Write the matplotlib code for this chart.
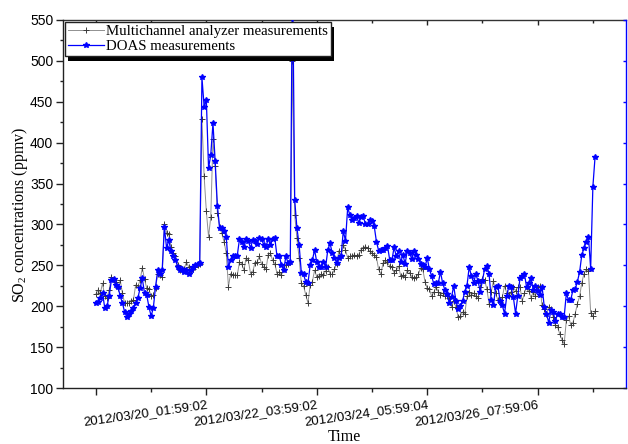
import matplotlib
matplotlib.use("Agg")
import matplotlib.pyplot as plt
from matplotlib.patches import Rectangle
from matplotlib.ticker import FixedLocator, MultipleLocator
import numpy as np

# Hourly SO2 readings, indexed by sample number
tick_index = [0, 50, 100, 150, 200]
tick_labels = ["", "2012/03/20_01:59:02", "2012/03/22_03:59:02",
               "2012/03/24_05:59:04", "2012/03/26_07:59:06"]

analyzer_ppmv = [
    215, 220, 216, 228, 212, 210, 220, 236, 232, 230, 222, 232, 216, 204, 204, 204,
    206, 208, 226, 224, 232, 247, 233, 222, 221, 212, 214, 222, 240, 238, 236, 301,
    290, 288, 273, 265, 262, 250, 244, 244, 246, 254, 248, 244, 246, 248, 250, 252,
    429, 359, 316, 285, 309, 404, 371, 314, 297, 289, 279, 265, 224, 240, 238, 238,
    238, 254, 252, 244, 259, 256, 240, 242, 253, 254, 261, 252, 248, 245, 263, 265,
    256, 252, 240, 242, 238, 246, 250, 252, 254, 500,
    312, 283, 259, 228, 225, 214, 204, 226, 230, 244, 236, 237, 239, 238, 243, 248,
    239, 239, 245, 252, 268, 261, 275, 269, 259, 261, 261, 263, 261, 263, 269, 271,
    273, 271, 267, 265, 263, 260, 245, 239, 253, 256, 254, 249, 248, 241, 244, 249,
    237, 238, 236, 244, 241, 236, 234, 236, 239, 247, 245, 230, 222, 221, 212, 217,
    223,
    218, 214, 216, 213, 212, 210, 199, 206, 199, 187, 188, 193, 190, 212, 218, 214,
    216, 213, 210, 223, 233, 232, 221, 203, 218, 231, 216, 207, 205, 211, 225, 216,
    212, 218, 223, 219, 223, 224, 206, 216, 223, 219, 210, 218, 212, 223, 225, 201,
    197, 191, 199, 197, 187, 177, 175, 166, 159, 154, 183, 188, 177, 180, 191, 203,
    212, 229, 240, 245, 243, 192, 188, 194,
]

doas_ppmv = [
    204, 205, 210, 216, 198, 200, 212, 232, 233, 226, 224, 212, 204, 193, 187, 190,
    194, 198, 204, 210, 222, 234, 216, 214, 199, 188, 198, 224, 244, 240, 244, 297,
    271, 281, 267, 261, 257, 248, 244, 245, 242, 244, 240, 244, 248, 250, 252, 253,
    480, 444, 452, 369, 385, 424, 377, 323, 296, 296, 292, 285, 248, 256, 261, 261,
    262, 282, 279, 272, 282, 280, 271, 281, 280, 276, 284, 282, 275, 273, 282, 275,
    282, 283, 261, 262, 250, 244, 261, 253, 254, 620,
    330, 296, 275, 241, 239, 230, 228, 250, 256, 269, 254, 248, 248, 254, 248, 269,
    277, 265, 259, 253, 259, 261, 292, 280, 321, 311, 305, 308, 310, 302, 309, 310,
    301, 300, 306, 304, 298, 279, 268, 269, 269, 271, 274, 257, 256, 272, 261, 267,
    254, 263, 252, 268, 265, 258, 267, 263, 258, 252, 251, 248, 259, 245, 237, 227,
    228,
    228, 242, 228, 220, 215, 204, 211, 225, 206, 197, 200, 206, 218, 225, 248, 237,
    229, 239, 231, 218, 231, 246, 249, 240, 207, 202, 223, 225, 206, 201, 191, 212,
    225, 223, 211, 191, 212, 234, 237, 240, 223, 228, 234, 220, 225, 219, 214, 224,
    199, 191, 180, 195, 193, 182, 190, 191, 187, 187, 216, 207, 208, 220, 221, 230,
    242, 263, 271, 279, 285, 246, 346, 383,
]

plt.rcParams['mathtext.fontset'] = 'custom'
plt.rcParams['mathtext.rm'] = 'Liberation Serif'
plt.rcParams['mathtext.it'] = 'Liberation Serif:italic'

W, H = 628, 444
fig = plt.figure(figsize=(W / 100, H / 100), dpi=100)
ax = fig.add_axes([63 / W, 56 / H, 563 / W, 368 / H])

x = np.arange(len(doas_ppmv))
ax.plot(x, analyzer_ppmv, color='#909090', lw=0.7, marker='+', ms=5,
        mec='#3a3a3a', mew=0.7, label='Multichannel analyzer measurements', zorder=2)
ax.plot(x, doas_ppmv, color='#0000ff', lw=0.9, marker='*', ms=4,
        mec='#0000ff', mfc='#0000ff', label='DOAS measurements', zorder=3)

ax.set_xlim(-14.9, 240)
ax.set_ylim(100, 550)

spine_col = '#222222'
for s in ('left', 'bottom'):
    ax.spines[s].set_color(spine_col)
    ax.spines[s].set_linewidth(1.0)
ax.spines['top'].set_visible(False)
ax.spines['right'].set_visible(False)

# bottom axis
ax.set_xticks(tick_index)
ax.set_xticklabels(tick_labels, rotation=8, ha='right', va='top',
                   rotation_mode='anchor', fontfamily='Liberation Sans', fontsize=9.5)
ax.xaxis.set_minor_locator(FixedLocator([25, 75, 125, 175, 225]))
ax.tick_params(axis='x', which='major', direction='out', length=5, width=1.0,
               color=spine_col, pad=2.5)
ax.tick_params(axis='x', which='minor', direction='out', length=3, width=1.0,
               color=spine_col)

# left axis
ax.yaxis.set_major_locator(MultipleLocator(50))
ax.yaxis.set_minor_locator(MultipleLocator(25))
ax.tick_params(axis='y', which='major', direction='out', length=4.8, width=1.0,
               color=spine_col, pad=2.2, labelsize=10)
ax.tick_params(axis='y', which='minor', direction='out', length=2.2, width=1.0,
               color=spine_col)
for lab in ax.get_yticklabels():
    lab.set_fontfamily('Liberation Sans')

# top axis, ticks pointing inward
secx = ax.secondary_xaxis('top')
secx.set_xticks(tick_index)
secx.set_xticklabels([])
secx.xaxis.set_minor_locator(FixedLocator([25, 75, 125, 175, 225]))
secx.tick_params(which='major', direction='in', length=3.5, width=1.0, color=spine_col)
secx.tick_params(which='minor', direction='in', length=2.5, width=1.0, color=spine_col)
secx.spines['top'].set_color('#333333')
secx.spines['top'].set_linewidth(1.0)

# right axis in blue, ticks pointing inward
secy = ax.secondary_yaxis('right')
secy.yaxis.set_major_locator(MultipleLocator(50))
secy.set_yticklabels([])
secy.tick_params(which='major', direction='in', length=2.5, width=1.0, color='#0000ff')
secy.spines['right'].set_color('#0000ff')
secy.spines['right'].set_linewidth(1.0)

ax.set_xlabel('Time', fontfamily='Liberation Serif', fontsize=11.5)
ax.xaxis.set_label_coords(0.5, -0.133)
ax.xaxis.label.set_verticalalignment('center')

ax.set_ylabel(r'SO$_\mathrm{2}$ concentrations (ppmv)', fontfamily='Liberation Serif',
              fontsize=11.5)
ax.yaxis.set_label_coords(-0.077, 0.47)
ax.yaxis.label.set_verticalalignment('center')

leg = ax.legend(loc='upper left', bbox_to_anchor=(0.0036, 0.9954), borderaxespad=0,
                prop={'family': 'Liberation Serif', 'size': 10.7}, numpoints=1,
                fancybox=False, framealpha=1, edgecolor='#222222',
                handlelength=2.4, handletextpad=0.15, borderpad=0.2,
                labelspacing=0.1)
leg.get_frame().set_linewidth(1.0)
leg.set_zorder(6)

# drop shadow behind the legend box
fig.canvas.draw()
bb = leg.get_window_extent(fig.canvas.get_renderer())
inv = ax.transAxes.inverted()
(x0, y0) = inv.transform((bb.x0 + 3, bb.y0 - 5))
(x1, y1) = inv.transform((bb.x1 + 3, bb.y1 - 5))
ax.add_patch(Rectangle((x0, y0), x1 - x0, y1 - y0, transform=ax.transAxes,
                       facecolor='black', edgecolor='none', zorder=5.5, clip_on=False))

fig.savefig('out.png', dpi=100)
